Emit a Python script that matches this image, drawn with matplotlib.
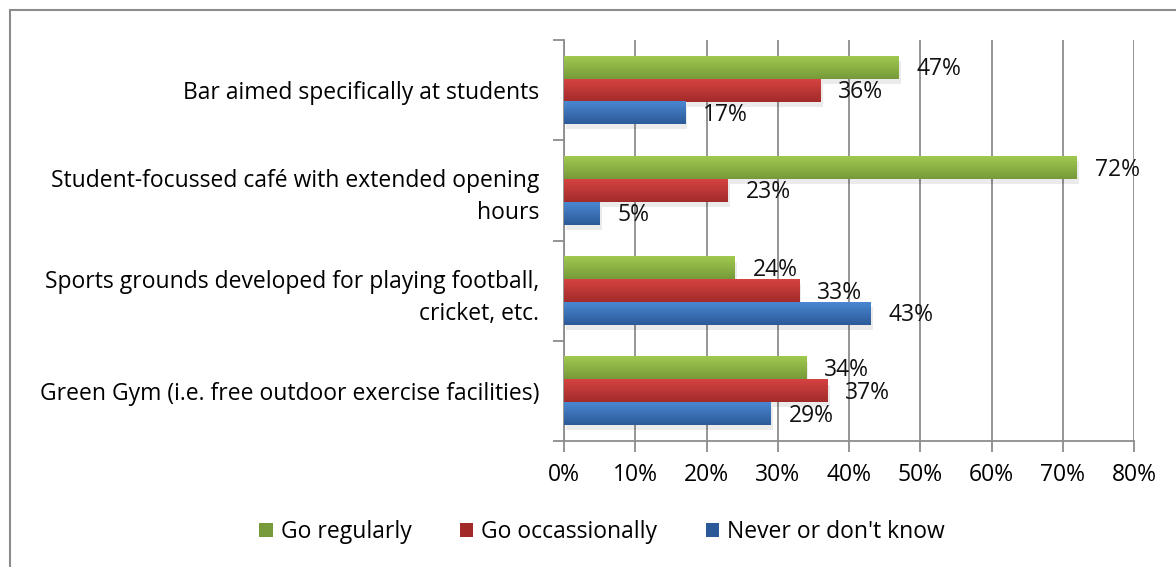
import matplotlib.pyplot as plt
import numpy as np
from matplotlib.patches import Rectangle
from matplotlib.colors import LinearSegmentedColormap

plt.rcParams['font.family'] = ['Open Sans', 'DejaVu Sans']

categories = ["Bar aimed specifically at students",
              "Student-focussed café with extended opening\nhours",
              "Sports grounds developed for playing football,\ncricket, etc.",
              "Green Gym (i.e. free outdoor exercise facilities)"]
series = ["Go regularly", "Go occassionally", "Never or don't know"]
regularly = [47, 72, 24, 34]
occasionally = [36, 23, 33, 37]
never = [17, 5, 43, 29]
values = [regularly, occasionally, never]
xticks = [0, 10, 20, 30, 40, 50, 60, 70, 80]

# top / bottom gradient colours per series
grads = [("#a0c94f", "#779a3a"), ("#d54341", "#a22b2a"), ("#4a87d2", "#2c5a98")]
fs = 16.5

fig = plt.figure(figsize=(11.76, 5.67), dpi=100)
fig.patches.append(Rectangle((10 / 1176, -0.1), 1.2, 0.1 + (567 - 10) / 567,
                             transform=fig.transFigure, fill=False,
                             edgecolor="#8c8c8c", linewidth=1.5))
ax = fig.add_axes([564 / 1176, 126 / 567, 570 / 1176, 401 / 567])

y = np.arange(len(categories))
h = 0.227
offsets = [-h, 0, h]
for vals, off, (c1, c2), name in zip(values, offsets, grads, series):
    bars = ax.barh(y + off, vals, height=h, color=c2, label=name, zorder=3)
    cmap = LinearSegmentedColormap.from_list("g", [c1, c2])
    for b, v in zip(bars, vals):
        x0, y0, w, hh = b.get_x(), b.get_y(), b.get_width(), b.get_height()
        # soft shadow
        ax.add_patch(Rectangle((x0 + 0.3, y0 + 0.05), w, hh, color="#000000",
                               alpha=0.08, zorder=2, linewidth=0))
        ax.imshow(np.linspace(0, 1, 50).reshape(-1, 1), cmap=cmap, aspect="auto",
                  extent=(x0, x0 + w, y0 + hh, y0), zorder=3.5,
                  interpolation="bilinear")
        ax.text(v + 2.5, b.get_y() + hh / 2 + 0.02, f"{v}%", va="center",
                ha="left", fontsize=fs, color="#111111", zorder=5)

ax.set_xlim(0, 80)
ax.set_ylim(len(categories) - 0.5, -0.5)
ax.set_xticks(xticks)
ax.set_xticklabels([f"{t}%" for t in xticks], fontsize=fs)
ax.set_yticks(y)
ax.set_yticklabels(categories, fontsize=fs, linespacing=1.45)
ax.set_yticks(np.arange(-0.5, len(categories)), minor=True)
ax.tick_params(axis="y", which="major", length=0, pad=18)
ax.tick_params(axis="y", which="minor", length=8, color="#8c8c8c", width=1.3)
ax.tick_params(axis="x", length=8, color="#8c8c8c", width=1.3, pad=8)
ax.grid(axis="x", color="#8c8c8c", linewidth=1.3, zorder=0)
for s in ["top", "right"]:
    ax.spines[s].set_visible(False)
for s in ["left", "bottom"]:
    ax.spines[s].set_color("#8c8c8c")
    ax.spines[s].set_linewidth(1.3)

ax.legend(loc="center", bbox_to_anchor=(602 / 1176, (567 - 532) / 567),
          bbox_transform=fig.transFigure, ncol=3, frameon=False, fontsize=fs,
          handlelength=0.6, handleheight=0.6, handletextpad=0.35,
          columnspacing=2.1)

fig.savefig("out.png", dpi=100)
